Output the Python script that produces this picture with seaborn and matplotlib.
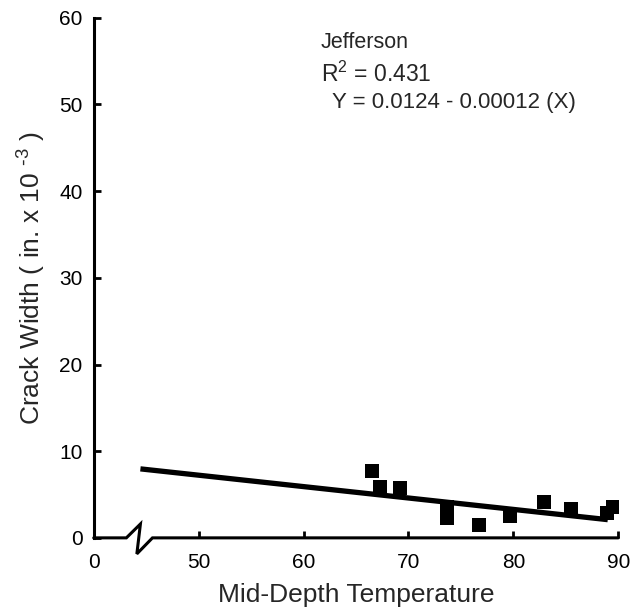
import matplotlib
matplotlib.use("Agg")
import matplotlib.pyplot as plt
import seaborn as sns
import pandas as pd

# Data (crack width in in. x 10^-3)
temperature = [66.5, 67.3, 69.2, 73.7, 73.7, 76.7, 79.7, 82.9, 85.5, 88.9, 89.5]
crack_width = [7.7, 5.9, 5.8, 3.6, 2.3, 1.5, 2.5, 4.1, 3.3, 2.85, 3.6]

# Regression line end points as drawn
fit_x = [44.45, 89.0]
fit_y = [7.96, 2.1]

# Axis break marker (data coordinates)
break_x = [40.0, 43.11, 44.45, 44.11, 45.6, 90.0]
break_y = [0.0, 0.0, 1.6, -1.85, 0.0, 0.0]

xticks = [40, 50, 60, 70, 80, 90]
xtick_labels = ["0", "50", "60", "70", "80", "90"]
yticks = [0, 10, 20, 30, 40, 50, 60]

sns.set_style("ticks")
plt.rcParams["font.family"] = ["Liberation Sans", "DejaVu Sans"]
plt.rcParams["mathtext.default"] = "regular"

fig = plt.figure(figsize=(6.42, 6.14), dpi=100)
ax = fig.add_axes([0.146, 0.124, 0.817, 0.847])

pts = pd.DataFrame({"t": temperature, "w": crack_width})
sns.scatterplot(data=pts, x="t", y="w", marker="s", s=100, color="black",
                edgecolor="black", linewidth=0, ax=ax, zorder=3)
fit = pd.DataFrame({"t": fit_x, "w": fit_y})
sns.lineplot(data=fit, x="t", y="w", color="black", linewidth=3.8, ax=ax,
             zorder=2, solid_capstyle="butt")

ax.plot(break_x, break_y, color="black", linewidth=2.2, clip_on=False,
        solid_joinstyle="miter", zorder=4)

ax.set_xlim(40, 90)
ax.set_ylim(0, 60)
ax.set_xticks(xticks)
ax.set_xticklabels(xtick_labels)
ax.set_yticks(yticks)

for s in ["top", "right", "bottom"]:
    ax.spines[s].set_visible(False)
ax.spines["left"].set_linewidth(2.2)
ax.spines["left"].set_color("black")

ax.tick_params(axis="both", direction="in", length=5, width=2, colors="black",
               labelsize=15)
ax.tick_params(axis="x", pad=11)
ax.tick_params(axis="y", pad=8)

ax.set_xlabel("Mid-Depth Temperature", fontsize=19, labelpad=8)
ax.set_ylabel("Crack Width ( in. x 10 $^{\\text{-}3}$ )", fontsize=19, labelpad=8)

ax.text(0.433, 0.942, "Jefferson", transform=ax.transAxes, fontsize=15.5,
        ha="left", va="baseline")
ax.text(0.433, 0.877, "R$^{2}$ = 0.431", transform=ax.transAxes, fontsize=16.5,
        ha="left", va="baseline")
ax.text(0.454, 0.827, "Y = 0.0124 - 0.00012 (X)", transform=ax.transAxes,
        fontsize=16, ha="left", va="baseline")

fig.savefig("out.png", dpi=100)
